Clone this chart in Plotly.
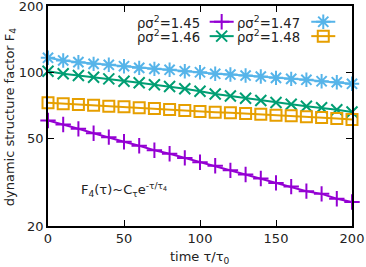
import plotly.graph_objects as go

tau = [0, 10, 20, 30, 40, 50, 60, 70, 80, 90, 100, 110, 120, 130, 140, 150, 160, 170, 180, 190, 200]

F4_145 = [60.3, 57.9, 55.3, 52.8, 50.7, 48.3, 46.3, 44.2, 42.6, 40.8, 39.0,
          37.6, 35.8, 34.3, 32.9, 31.4, 30.2, 28.8, 28.0, 26.6, 25.7]
F4_146 = [101.1, 98.4, 96.6, 94.9, 93.3, 91.0, 89.5, 87.7, 86.1, 84.1, 82.0,
          79.6, 78.0, 76.2, 74.4, 72.8, 71.5, 70.1, 68.9, 67.5, 66.0]
F4_147 = [116.3, 113.1, 111.1, 109.2, 108.1, 106.5, 104.7, 103.6, 102.6, 101.1, 100.0,
          98.4, 97.6, 96.6, 95.6, 94.3, 93.3, 92.4, 91.0, 90.1, 88.6]
F4_148 = [72.6, 71.9, 71.4, 70.8, 70.1, 69.6, 68.9, 68.4, 67.7, 67.0, 66.3,
          65.8, 65.4, 64.9, 64.5, 63.8, 63.4, 62.7, 62.3, 61.6, 61.0]

labels = ["ρσ<sup>2</sup>=1.45", "ρσ<sup>2</sup>=1.46", "ρσ<sup>2</sup>=1.47", "ρσ<sup>2</sup>=1.48"]
colors = ["#9400d3", "#009e73", "#56b4e9", "#e69f00"]
symbols = ["cross-thin-open", "x-thin-open", "asterisk-open", "square-open"]
msizes = [11, 11, 12, 11]
series = [F4_145, F4_146, F4_147, F4_148]

x_ticks = [0, 50, 100, 150, 200]
y_ticks = [20, 50, 100, 200]

FONT = "DejaVu Sans"
TXT = "#222"

# plot-area geometry in pixels (for placing legend/annotations)
L, R, T, B = 48, 351.7, 5.5, 226.0
W, H = 366, 267


def px(x):
    return (x - L) / (R - L)


def py(y):
    return (B - y) / (B - T)


fig = go.Figure()

for s, c, sym, ms in zip(series, colors, symbols, msizes):
    fig.add_trace(go.Scatter(
        x=tau, y=s, mode="lines+markers",
        line=dict(color=c, width=2),
        marker=dict(symbol=sym, size=ms, color=c, line=dict(color=c, width=2)),
        showlegend=False, cliponaxis=False,
    ))

# custom gnuplot-style legend (text then sample), in pixel-like overlay coords
leg_rows = [21.3, 35.7]
leg_text_right = [201.5, 302]
leg_sample = [(209.5, 233.5), (311, 335)]
order = [(0, 0, 0), (1, 1, 0), (2, 0, 1), (3, 1, 1)]  # series idx, row, col
for idx, row, col in order:
    y = leg_rows[row]
    x0, x1 = leg_sample[col]
    fig.add_trace(go.Scatter(
        x=[x0, x1], y=[y, y], mode="lines", xaxis="x2", yaxis="y2",
        line=dict(color=colors[idx], width=2), showlegend=False, hoverinfo="skip"))
    fig.add_trace(go.Scatter(
        x=[(x0 + x1) / 2], y=[y], mode="markers", xaxis="x2", yaxis="y2",
        marker=dict(symbol=symbols[idx], size=msizes[idx], color=colors[idx],
                    line=dict(color=colors[idx], width=2)),
        showlegend=False, hoverinfo="skip"))
    fig.add_annotation(x=px(leg_text_right[col]), y=py(y), xref="paper", yref="paper",
                       text=labels[idx], showarrow=False, xanchor="right",
                       yanchor="middle", font=dict(family=FONT, size=13.2, color=TXT))

fig.add_annotation(x=px(124), y=py(190), xref="paper", yref="paper",
                   text="F<sub>4</sub>(τ)~C<sub>τ</sub>e<sup>-τ/τ<sub>4</sub></sup>",
                   showarrow=False, xanchor="center", yanchor="middle",
                   font=dict(family=FONT, size=13, color=TXT))

# axis titles
fig.add_annotation(x=px(200), y=py(258), xref="paper", yref="paper",
                   text="time τ/τ<sub>0</sub>",
                   showarrow=False, xanchor="center", yanchor="middle",
                   font=dict(family=FONT, size=13, color=TXT))
fig.add_annotation(x=px(10), y=py(116), xref="paper", yref="paper",
                   text="dynamic structure factor F<sub>4</sub>",
                   showarrow=False, xanchor="center", yanchor="middle", textangle=-90,
                   font=dict(family=FONT, size=13, color=TXT))

axis_common = dict(showline=True, linecolor="black", linewidth=1.5, mirror="ticks",
                   ticks="inside", ticklen=6, tickwidth=1.2, tickcolor="black",
                   showgrid=False, zeroline=False, automargin=False,
                   ticklabeloverflow="allow",
                   tickfont=dict(family=FONT, size=13, color=TXT))

fig.update_layout(
    width=W, height=H,
    margin=dict(l=L, r=W - R, t=T, b=H - B),
    paper_bgcolor="white", plot_bgcolor="white",
    xaxis=dict(range=[0, 200], tickvals=x_ticks, ticktext=[str(v) for v in x_ticks],
               **axis_common),
    yaxis=dict(type="log", range=[1.3010, 2.3011], tickvals=y_ticks,
               ticktext=[str(v) for v in y_ticks], **axis_common),
    xaxis2=dict(overlaying="x", range=[L, R], visible=False, fixedrange=True),
    yaxis2=dict(overlaying="y", range=[B, T], visible=False, fixedrange=True),
)

fig.write_html("out.html", post_script="document.body.style.margin='0';",
               config={"displayModeBar": False})
